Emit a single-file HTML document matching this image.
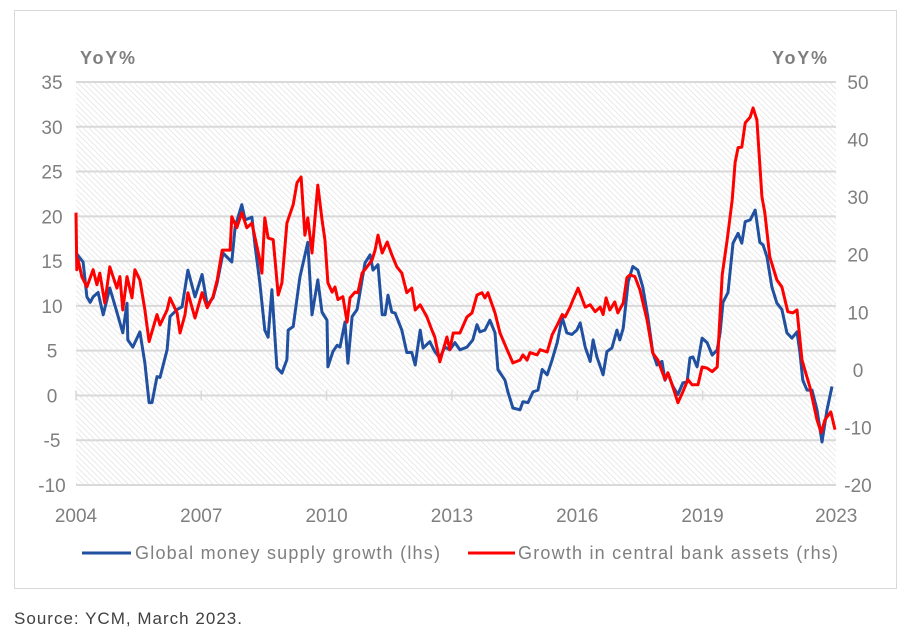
<!DOCTYPE html>
<html><head><meta charset="utf-8"><style>
body{margin:0;background:#fff;width:910px;height:635px;overflow:hidden;font-family:"Liberation Sans",sans-serif;}
svg{position:absolute;left:0;top:0;}
</style></head><body>
<svg width="910" height="635" xmlns="http://www.w3.org/2000/svg">
<defs>
<pattern id="hatch" width="4" height="4" patternUnits="userSpaceOnUse" patternTransform="rotate(-45)">
<line x1="0" y1="0" x2="0" y2="4" stroke="#dcdcdc" stroke-width="1.2"/>
</pattern>
</defs>
<rect x="14.5" y="10.5" width="882" height="578" fill="#fff" stroke="#d9d9d9"/>
<rect x="76" y="82" width="760" height="403" fill="url(#hatch)"/>
<g id="grid"></g>
<g id="axes"></g>
<g id="series"></g>
<text x="80" y="64" font-size="18" font-weight="bold" fill="#7f7f7f" textLength="55">YoY%</text>
<text x="772" y="64" font-size="18" font-weight="bold" fill="#7f7f7f" textLength="55">YoY%</text>
<g>
<line x1="82" y1="553" x2="131" y2="553" stroke="#2150a0" stroke-width="3"/>
<text x="135" y="559" font-size="18" fill="#7f7f7f" textLength="305">Global money supply growth (lhs)</text>
<line x1="468" y1="553" x2="515" y2="553" stroke="#ff0000" stroke-width="3"/>
<text x="518" y="559" font-size="18" fill="#7f7f7f" textLength="320">Growth in central bank assets (rhs)</text>
</g>
<text x="14" y="624" font-size="17" fill="#404040" textLength="228">Source: YCM, March 2023.</text>
</svg>
<script>
const leftTicks=[35,30,25,20,15,10,5,0,-5,-10];
const rightTicks=[50,40,30,20,10,0,-10,-20];
const xTickLabels=["2004","2007","2010","2013","2016","2019","2023"];
const xTickDates=[2004,2007,2010,2013,2016,2019,2022.2];
const moneyDates=[2004.0,2004.17,2004.26,2004.34,2004.41,2004.53,2004.65,2004.81,2004.98,2005.12,2005.22,2005.24,2005.36,2005.53,2005.65,2005.75,2005.82,2005.94,2006.01,2006.18,2006.25,2006.42,2006.54,2006.68,2006.85,2007.02,2007.14,2007.28,2007.38,2007.52,2007.73,2007.81,2007.97,2008.05,2008.21,2008.29,2008.40,2008.52,2008.60,2008.69,2008.81,2008.93,2009.05,2009.08,2009.20,2009.36,2009.55,2009.65,2009.79,2009.89,2010.01,2010.03,2010.15,2010.25,2010.32,2010.44,2010.51,2010.61,2010.73,2010.85,2010.92,2011.04,2011.11,2011.23,2011.33,2011.40,2011.47,2011.56,2011.64,2011.80,2011.92,2012.04,2012.12,2012.24,2012.31,2012.47,2012.59,2012.71,2012.83,2012.95,2013.07,2013.19,2013.36,2013.50,2013.60,2013.67,2013.79,2013.91,2014.03,2014.10,2014.27,2014.34,2014.46,2014.63,2014.70,2014.82,2014.94,2015.06,2015.16,2015.28,2015.40,2015.52,2015.64,2015.75,2015.87,2015.99,2016.07,2016.19,2016.31,2016.38,2016.47,2016.62,2016.71,2016.83,2016.95,2017.02,2017.10,2017.22,2017.33,2017.45,2017.57,2017.69,2017.81,2017.91,2018.03,2018.10,2018.17,2018.29,2018.41,2018.53,2018.63,2018.70,2018.77,2018.87,2018.99,2019.11,2019.23,2019.35,2019.42,2019.49,2019.61,2019.73,2019.85,2019.94,2020.02,2020.14,2020.26,2020.37,2020.45,2020.54,2020.66,2020.78,2020.90,2021.02,2021.14,2021.26,2021.33,2021.40,2021.50,2021.62,2021.74,2021.86,2021.98,2022.10];
const moneyValues=[15.9,14.9,11.0,10.4,11.0,11.5,9.0,12.0,9.3,7.0,10.3,6.2,5.4,7.1,3.6,-0.8,-0.8,2.1,2.0,5.1,8.8,9.6,9.9,14.0,11.0,13.5,10.1,10.9,12.6,15.9,14.9,18.8,21.3,19.6,19.9,16.6,12.6,7.3,6.5,11.8,3.1,2.5,4.0,7.3,7.7,13.2,17.1,9.0,12.9,9.3,8.4,3.2,4.9,5.6,5.4,8.2,3.6,8.8,9.6,12.9,14.8,15.7,14.0,14.6,9.0,9.0,11.2,9.3,9.2,7.3,4.8,4.8,3.4,7.3,5.3,6.0,4.9,4.2,5.4,5.1,5.9,5.1,5.4,6.2,7.9,7.1,7.3,8.4,7.0,2.9,1.7,0.4,-1.4,-1.6,-0.7,-0.8,0.4,0.6,2.9,2.3,4.0,5.9,8.7,7.0,6.8,7.3,8.1,5.4,3.8,6.2,4.3,2.3,4.9,5.3,7.3,6.2,7.5,12.7,14.4,14.0,12.1,8.8,4.8,3.4,3.8,1.7,2.5,1.0,0.1,1.4,1.5,4.2,4.3,3.2,6.4,5.9,4.5,5.1,7.0,10.4,11.5,17.0,18.1,17.0,19.4,19.6,20.7,17.1,16.8,15.5,12.1,10.3,9.6,7.0,6.4,7.1,4.8,1.7,0.6,0.6,-1.6,-5.2,-1.6,1.0];
const cbDates=[2004.0,2004.02,2004.05,2004.14,2004.26,2004.41,2004.50,2004.57,2004.69,2004.81,2004.98,2005.05,2005.12,2005.22,2005.34,2005.41,2005.53,2005.65,2005.75,2005.94,2006.01,2006.18,2006.25,2006.42,2006.49,2006.61,2006.68,2006.85,2007.02,2007.14,2007.28,2007.38,2007.50,2007.69,2007.73,2007.85,2007.97,2008.09,2008.21,2008.40,2008.45,2008.52,2008.60,2008.72,2008.84,2008.93,2009.05,2009.20,2009.29,2009.39,2009.48,2009.55,2009.65,2009.79,2009.89,2009.96,2010.03,2010.13,2010.20,2010.27,2010.39,2010.49,2010.56,2010.68,2010.75,2010.85,2010.97,2011.09,2011.16,2011.23,2011.33,2011.45,2011.56,2011.68,2011.80,2011.92,2012.04,2012.12,2012.24,2012.40,2012.52,2012.59,2012.71,2012.88,2012.95,2013.03,2013.19,2013.36,2013.48,2013.60,2013.72,2013.79,2013.86,2014.03,2014.15,2014.32,2014.46,2014.63,2014.70,2014.80,2014.87,2015.04,2015.11,2015.28,2015.40,2015.52,2015.64,2015.71,2015.83,2015.90,2016.02,2016.19,2016.31,2016.43,2016.55,2016.62,2016.69,2016.78,2016.90,2016.97,2017.10,2017.19,2017.26,2017.38,2017.50,2017.67,2017.81,2017.93,2018.10,2018.17,2018.29,2018.41,2018.53,2018.65,2018.75,2018.89,2018.99,2019.11,2019.23,2019.35,2019.47,2019.59,2019.71,2019.78,2019.85,2019.94,2020.02,2020.14,2020.21,2020.30,2020.42,2020.49,2020.61,2020.78,2020.90,2021.04,2021.16,2021.26,2021.38,2021.57,2021.74,2021.84,2021.93,2022.07,2022.17];
const cbValues=[27.3,17.4,19.1,16.2,14.4,17.4,14.8,16.8,11.6,17.9,14.2,16.2,10.4,16.2,12.5,17.4,15.6,10.4,4.9,9.6,7.8,10.4,12.5,9.9,6.4,9.6,13.4,9.0,13.4,10.8,12.7,15.6,20.8,20.8,26.6,24.7,27.3,24.7,25.5,19.1,16.8,26.4,22.9,22.6,13.0,15.1,25.5,28.7,32.5,33.5,23.4,26.4,20.3,32.1,26.1,22.6,15.1,13.5,14.4,12.2,12.7,8.3,12.5,13.5,13.4,16.8,17.9,19.1,20.8,23.4,20.3,22.2,20.0,17.9,16.8,13.4,14.2,10.4,11.3,9.2,6.9,5.7,1.4,5.7,3.5,6.4,6.4,9.2,9.9,13.0,13.4,12.5,13.4,9.9,6.4,3.5,1.2,1.7,2.6,1.7,3.0,2.6,3.5,3.1,6.1,7.8,9.6,9.2,10.9,12.2,14.2,10.9,11.3,10.1,10.9,9.6,12.5,10.4,11.8,9.9,11.6,16.0,16.5,16.2,13.9,8.7,2.9,1.7,-1.7,-0.5,-3.0,-5.7,-3.8,-1.7,-2.6,-2.6,0.5,0.3,-0.3,0.5,16.5,22.6,29.5,36.0,38.6,38.7,42.9,43.9,45.5,43.4,30.1,27.3,19.6,15.6,14.4,10.1,9.9,10.4,1.7,-3.0,-8.7,-10.9,-8.7,-7.3,-10.4];

const NS="http://www.w3.org/2000/svg";
const X0=76,X1=836,YT=82,YB=485;
function xS(d){return X0+(d-2004)*41.77;}
function yLeft(v){return YT+(35-v)*(YB-YT)/45;}
function yRight(v){return YT+(50-v)*(YB-YT)/70;}
function mk(tag,attrs,parent){const e=document.createElementNS(NS,tag);for(const k in attrs)e.setAttribute(k,attrs[k]);parent.appendChild(e);return e;}
const grid=document.getElementById('grid'),axes=document.getElementById('axes'),series=document.getElementById('series');
leftTicks.forEach(v=>{
  const y=yLeft(v);
  const l=mk('line',{x1:X0,x2:X1,y1:y,y2:y,stroke:'#d9d9d9','stroke-width':2},grid);
  
  
  const t=mk('text',{x:52,y:y+7,'font-size':19,fill:'#7f7f7f','text-anchor':'middle'},axes);
  t.textContent=v;
  
  
});
rightTicks.forEach(v=>{
  const y=yRight(v);
  const t=mk('text',{x:858,y:y+7,'font-size':19,fill:'#7f7f7f','text-anchor':'middle'},axes);
  t.textContent=v;
  
  
});
xTickDates.forEach((d,i)=>{
  const x=xS(d);
  if(i<xTickDates.length-1){
    const tk=mk('line',{x1:x,x2:x,y1:yLeft(0)-5,y2:yLeft(0)+5,stroke:'#d9d9d9','stroke-width':1.5},grid);
    
    
  }
  const t=mk('text',{x:x,y:522,'font-size':19,fill:'#7f7f7f','text-anchor':'middle'},axes);
  t.textContent=xTickLabels[i];
  
  
});
function line(dates,vals,yf,color,name){
  const d=dates.map((dt,i)=>(i?'L':'M')+xS(dt).toFixed(1)+','+yf(vals[i]).toFixed(1)).join('');
  const p=mk('path',{d:d,fill:'none',stroke:color,'stroke-width':3,'stroke-linejoin':'round'},series);
  
  
}
line(moneyDates,moneyValues,yLeft,'#2150a0','money-supply-line');
line(cbDates,cbValues,yRight,'#ff0000','central-bank-assets-line');
</script>
</body></html>
